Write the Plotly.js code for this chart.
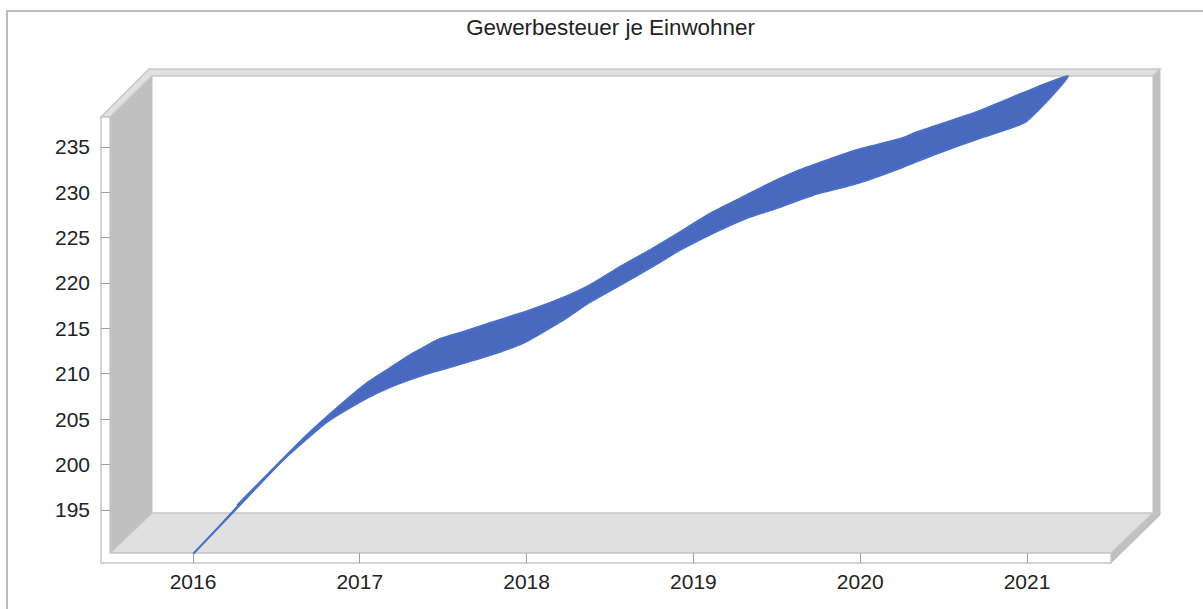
<!DOCTYPE html>
<html><head><meta charset="utf-8"><script src="https://cdn.plot.ly/plotly-3.0.0.min.js"></script>
<style>html,body{margin:0;padding:0;background:#fff}#c{width:1203px;height:609px}</style></head>
<body><div id="c"></div><script>
const chartTitle = "Gewerbesteuer je Einwohner";
const frontYears = [2016.000,2016.264,2016.540,2016.803,2017.019,2017.181,2017.379,2017.583,2017.781,2017.978,2018.200,2018.380,2018.560,2018.740,2018.920,2019.118,2019.321,2019.519,2019.717,2019.987,2020.257,2020.436,2020.718,2020.988];
const frontValues = [190.15,195.22,200.51,204.70,207.12,208.55,209.88,210.98,212.08,213.40,215.72,217.92,219.79,221.67,223.65,225.52,227.18,228.39,229.71,231.03,232.80,234.12,235.99,237.75];
const backYears = [2016.264,2016.683,2016.863,2017.043,2017.181,2017.301,2017.481,2017.619,2017.781,2017.990,2018.200,2018.380,2018.560,2018.740,2018.920,2019.118,2019.321,2019.501,2019.639,2019.981,2020.257,2020.341,2020.701,2020.760,2020.976,2021.246];
const backValues = [195.50,203.26,206.24,208.99,210.65,212.08,213.84,214.61,215.61,216.82,218.25,219.79,221.78,223.65,225.63,227.84,229.71,231.36,232.47,234.67,235.99,236.65,238.86,239.30,240.95,242.82];
const xTicks = [2016,2017,2018,2019,2020,2021];
const yTicks = [195,200,205,210,215,220,225,230,235];

const L=101,R=1160,T=69,B=563, W=1203,H=609;
const pxPerYear=166.8, pxPerUnit=9.075;
const xRange=[2016-(193-L)/pxPerYear, 2016+(R-193)/pxPerYear];
const yRange=[195-(B-510)/pxPerUnit, 195+(510-T)/pxPerUnit];
const fx=p=>(p-L)/(R-L), fy=p=>(B-p)/(B-T);
const poly=(pts,fill,line,w)=>({type:'path',xref:'paper',yref:'paper',layer:'below',
  path:'M'+pts.map(p=>fx(p[0])+','+fy(p[1])).join('L')+'Z',fillcolor:fill,line:{color:line,width:w===undefined?1.5:w}});
const seg=(pts,c,w)=>({type:'path',xref:'paper',yref:'paper',layer:'below',
  path:'M'+pts.map(p=>fx(p[0])+','+fy(p[1])).join('L'),line:{color:c,width:w}});
const rim='#c6c6c6';
const shapes=[
  seg([[7,609],[7,11],[1203,11]],'#a6a6a6',1.5),
  poly([[110,117],[152,76],[152,513],[110,553]],'#c0c0c0','#c0c0c0',1),
  poly([[1153,76],[1160,69],[1160,515],[1111,563],[1111,553],[1153,513]],'#c0c0c0','#c0c0c0',1),
  poly([[101,117],[149,69],[1160,69],[1153,76],[152,76],[110,117]],'#e0e0e0',rim),
  poly([[110,553],[152,513],[1153,513],[1111,553]],'#e0e0e0',rim),
  poly([[101,117],[110,117],[110,553],[1111,553],[1111,563],[101,563]],'#ffffff',rim)
];
const ribbonX=frontYears.concat(backYears.slice().reverse());
const ribbonY=frontValues.concat(backValues.slice().reverse());
Plotly.newPlot('c',[{x:ribbonX,y:ribbonY,type:'scatter',mode:'lines',fill:'toself',fillcolor:'#4869bd',
  line:{color:'#4a6fc8',width:2,shape:'spline',smoothing:0.5},hoverinfo:'skip',showlegend:false}],{
  width:W,height:H,margin:{l:L,r:W-R,t:T,b:H-B,pad:0},paper_bgcolor:'#fff',plot_bgcolor:'rgba(0,0,0,0)',
  showlegend:false,
  font:{family:'Liberation Sans, Arial, sans-serif',color:'#222',size:21},
  title:{text:chartTitle,x:610.5/W,xanchor:'center',y:1-27/H,yanchor:'middle',font:{size:22.4,color:'#222'}},
  xaxis:{range:xRange,tickvals:xTicks,ticktext:xTicks.map(String),ticks:'inside',ticklen:10,tickcolor:'#a0a0a0',tickwidth:1,showgrid:false,zeroline:false,showline:false,ticklabelstandoff:4,tickfont:{size:21}},
  yaxis:{range:yRange,tickvals:yTicks,ticktext:yTicks.map(String),ticks:'inside',ticklen:9,tickcolor:'#a0a0a0',tickwidth:1,showgrid:false,zeroline:false,showline:false,ticklabelstandoff:10,tickfont:{size:21}},
  shapes:shapes
},{displayModeBar:false,staticPlot:true});
</script></body></html>
